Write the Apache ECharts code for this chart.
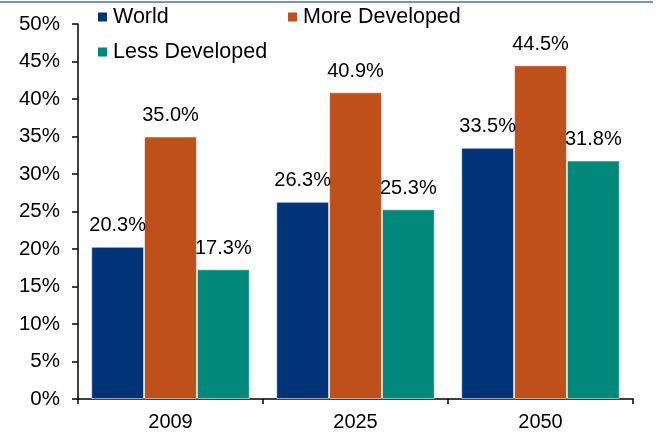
<!DOCTYPE html>
<html>
<head>
<meta charset="utf-8">
<script src="https://cdn.jsdelivr.net/npm/echarts@6/dist/echarts.min.js"></script>
<style>
html,body{margin:0;padding:0;background:#fff;}
#chart{width:665px;height:434px;}
</style>
</head>
<body>
<div id="chart"></div>
<script>
const categories = ['2009', '2025', '2050'];
const world = [20.3, 26.3, 33.5];
const moreDeveloped = [35.0, 40.9, 44.5];
const lessDeveloped = [17.3, 25.3, 31.8];
const seriesNames = ['World', 'More Developed', 'Less Developed'];
const colors = ['#003478', '#BF5019', '#00887A'];

const FONT = '"Liberation Sans", Arial, sans-serif';
const chart = echarts.init(document.getElementById('chart'));

function bar(name, data, color) {
  return {
    name: name,
    type: 'bar',
    data: data,
    barGap: '0%',
    barCategoryGap: '14.3%',
    itemStyle: { color: color, borderColor: 'rgba(255,255,255,0.55)', borderWidth: 1 },
    label: {
      show: true,
      position: 'top',
      distance: 11,
      color: '#000',
      fontFamily: FONT,
      fontSize: 20,
      formatter: p => p.value.toFixed(1) + '%'
    }
  };
}

const legendBase = {
  orient: 'horizontal',
  padding: 0,
  itemWidth: 9,
  itemHeight: 9,
  itemGap: 0,
  icon: 'rect',
  selectedMode: false,
  itemStyle: { borderWidth: 0 },
  textStyle: { fontFamily: FONT, fontSize: 21.5, color: '#000', padding: [0, 0, 0, 1] }
};

chart.setOption({
  animation: false,
  color: colors,
  grid: { left: 78, right: 32, top: 24, bottom: 35 },
  graphic: [{
    type: 'line',
    shape: { x1: 0, y1: 2, x2: 653, y2: 2 },
    style: { stroke: '#7892b8', lineWidth: 2 }
  }],
  legend: [
    Object.assign({}, legendBase, { data: [seriesNames[0]], left: 98, top: 6 }),
    Object.assign({}, legendBase, { data: [seriesNames[1]], left: 288, top: 6 }),
    Object.assign({}, legendBase, { data: [seriesNames[2]], left: 98, top: 41 })
  ],
  xAxis: {
    type: 'category',
    data: categories,
    axisLine: { lineStyle: { color: '#000', width: 1.5 } },
    axisTick: { show: true, length: 5, lineStyle: { color: '#000', width: 1.5 } },
    axisLabel: { color: '#000', fontFamily: FONT, fontSize: 20, margin: 13 }
  },
  yAxis: {
    type: 'value',
    min: 0,
    max: 50,
    interval: 5,
    splitLine: { show: false },
    axisLine: { show: true, lineStyle: { color: '#000', width: 1.5 } },
    axisTick: { show: true, length: 6, lineStyle: { color: '#000', width: 1.5 } },
    axisLabel: { color: '#000', fontFamily: FONT, fontSize: 20.5, margin: 18, formatter: '{value}%' }
  },
  series: [
    bar(seriesNames[0], world, colors[0]),
    bar(seriesNames[1], moreDeveloped, colors[1]),
    bar(seriesNames[2], lessDeveloped, colors[2])
  ]
});
</script>
</body>
</html>
